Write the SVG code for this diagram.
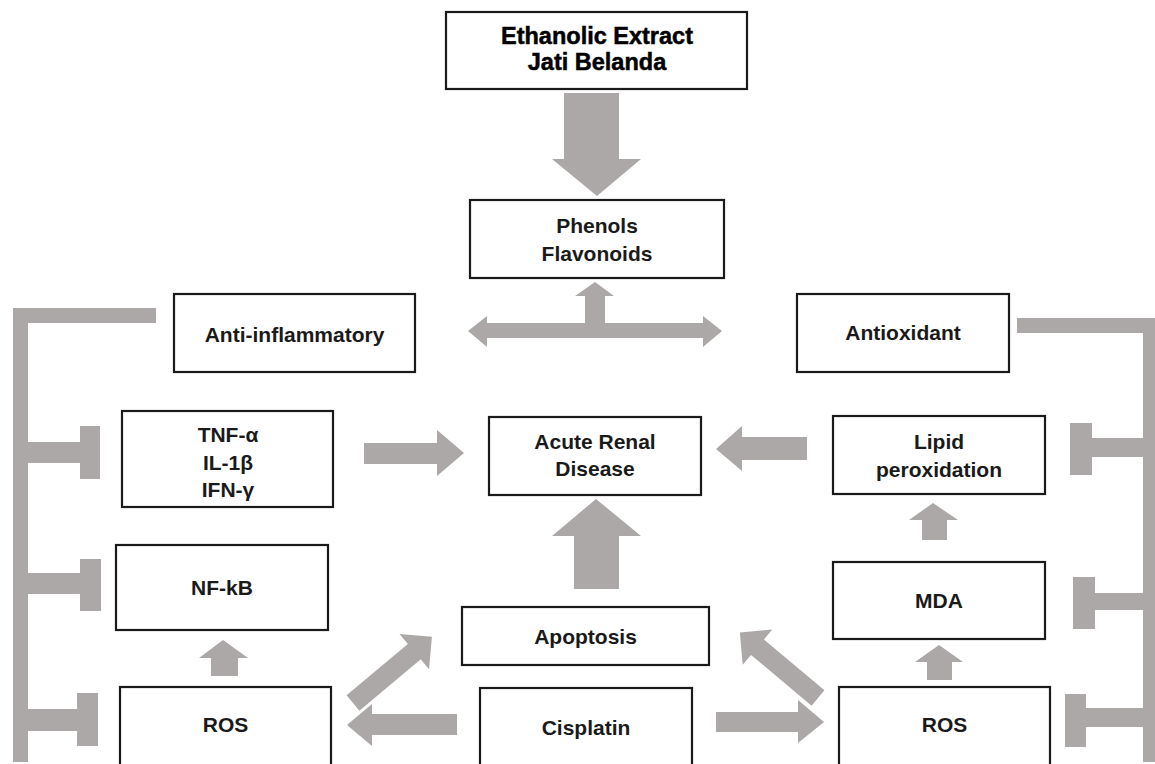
<svg xmlns="http://www.w3.org/2000/svg" width="1155" height="764" viewBox="0 0 1155 764">
<style>
.box{fill:#ffffff;stroke:#1a1a1a;stroke-width:2.2}
.t{font-family:"Liberation Sans",Arial,sans-serif;font-weight:bold;font-size:21px;fill:#1a1a1a;text-anchor:middle}
.t1{font-family:"Liberation Sans",Arial,sans-serif;font-weight:bold;font-size:23.5px;fill:#000000;text-anchor:middle;stroke:#000000;stroke-width:0.5}
.g{fill:#aca8a7}
</style>
<rect width="1155" height="764" fill="#ffffff"/>
<g id="connectors">
  <polygon class="g" points="564,93 619,93 619,159 641,159 597,196 552,159 564,159"/>
  <polygon class="g" points="468,331 487,316 487,323 585,323 585,296 575,296 595,282 614,296 605,296 605,323 703,323 703,316 722,331 703,347 703,338 487,338 487,347"/>
  <polygon class="g" points="364,443 437,443 437,430 464,453 437,476 437,464 364,464"/>
  <polygon class="g" points="807,437 742,437 742,426 716,449 742,471 742,460 807,460"/>
  <polygon class="g" points="574,589 574,536 552,536 596,499 641,536 619,536 619,589"/>
  <polygon class="g" points="211,676 211,658 199,658 223,640 248,658 238,658 238,676"/>
  <polygon class="g" points="922,540 922,520 909,520 933,503 958,520 947,520 947,540"/>
  <polygon class="g" points="927,680 927,662 915,662 939,645 963,662 952,662 952,680"/>
  <polygon class="g" points="457,714 372,714 372,704 347,725 372,746 372,735 457,735"/>
  <polygon class="g" points="716,712 798,712 798,700 824,722 798,743 798,732 716,732"/>
  <polygon class="g" transform="translate(353,703) rotate(-40)" points="0,-10 80,-10 80,-23 103,0 80,23 80,10 0,10"/>
  <polygon class="g" transform="translate(818,698) rotate(-140)" points="0,-10 79,-10 79,-23 102,0 79,23 79,10 0,10"/>
  <rect class="g" x="13" y="308" width="15" height="454"/>
  <rect class="g" x="13" y="308" width="143" height="15"/>
  <rect class="g" x="28" y="442" width="52" height="21"/>
  <rect class="g" x="80" y="426" width="20" height="53"/>
  <rect class="g" x="28" y="573" width="52" height="21"/>
  <rect class="g" x="80" y="559" width="21" height="52"/>
  <rect class="g" x="28" y="709" width="49" height="22"/>
  <rect class="g" x="77" y="693" width="21" height="53"/>
  <rect class="g" x="1143" y="318" width="13" height="444"/>
  <rect class="g" x="1017" y="318" width="139" height="15"/>
  <rect class="g" x="1092" y="438" width="51" height="19"/>
  <rect class="g" x="1070" y="423" width="22" height="52"/>
  <rect class="g" x="1095" y="593" width="48" height="17"/>
  <rect class="g" x="1073" y="577" width="22" height="52"/>
  <rect class="g" x="1086" y="708" width="57" height="19"/>
  <rect class="g" x="1065" y="694" width="21" height="53"/>
</g>
<g id="extract">
  <rect class="box" x="446" y="12" width="301" height="77"/>
  <text class="t1" x="597" y="44">Ethanolic Extract</text>
  <text class="t1" x="597" y="70">Jati Belanda</text>
</g>
<g id="phenols">
  <rect class="box" x="470" y="200" width="254" height="78"/>
  <text class="t" x="597" y="233">Phenols</text>
  <text class="t" x="597" y="261">Flavonoids</text>
</g>
<g id="anti-inflammatory">
  <rect class="box" x="174" y="294" width="241" height="78"/>
  <text class="t" x="294.5" y="342">Anti-inflammatory</text>
</g>
<g id="antioxidant">
  <rect class="box" x="797" y="294" width="212" height="78"/>
  <text class="t" x="903" y="340">Antioxidant</text>
</g>
<g id="cytokines">
  <rect class="box" x="122" y="411" width="211" height="96"/>
  <text class="t" x="228" y="442">TNF-α</text>
  <text class="t" x="228" y="470">IL-1β</text>
  <text class="t" x="228" y="497">IFN-γ</text>
</g>
<g id="acute-renal-disease">
  <rect class="box" x="489" y="417" width="212" height="78"/>
  <text class="t" x="595" y="449">Acute Renal</text>
  <text class="t" x="595" y="476">Disease</text>
</g>
<g id="lipid-peroxidation">
  <rect class="box" x="833" y="416" width="212" height="78"/>
  <text class="t" x="939" y="449">Lipid</text>
  <text class="t" x="939" y="477">peroxidation</text>
</g>
<g id="nfkb">
  <rect class="box" x="116" y="545" width="212" height="85"/>
  <text class="t" x="222" y="595">NF-kB</text>
</g>
<g id="mda">
  <rect class="box" x="833" y="562" width="212" height="77"/>
  <text class="t" x="939" y="608">MDA</text>
</g>
<g id="apoptosis">
  <rect class="box" x="462" y="607" width="247" height="58"/>
  <text class="t" x="585.5" y="644">Apoptosis</text>
</g>
<g id="ros-left">
  <rect class="box" x="120" y="687" width="211" height="90"/>
  <text class="t" x="225.5" y="732">ROS</text>
</g>
<g id="cisplatin">
  <rect class="box" x="480" y="688" width="212" height="90"/>
  <text class="t" x="586" y="735">Cisplatin</text>
</g>
<g id="ros-right">
  <rect class="box" x="839" y="687" width="211" height="90"/>
  <text class="t" x="944.5" y="732">ROS</text>
</g>
</svg>
